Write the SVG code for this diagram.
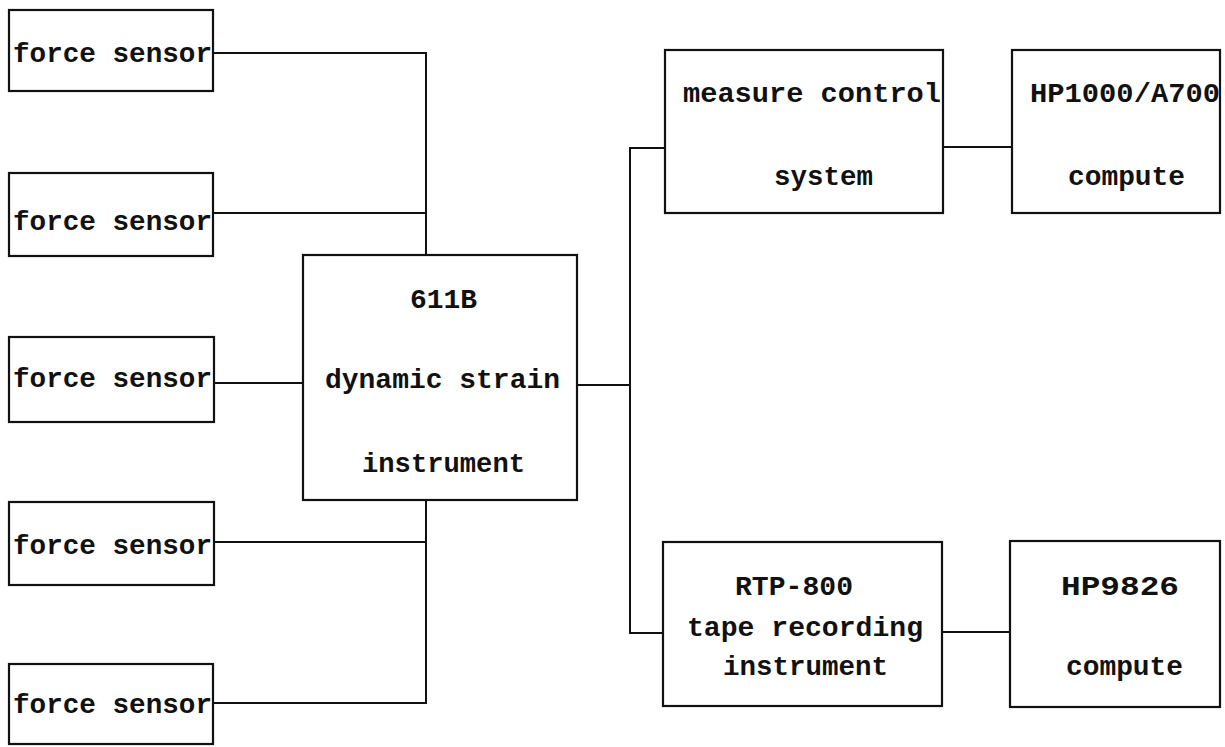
<svg xmlns="http://www.w3.org/2000/svg" width="1225" height="747" viewBox="0 0 1225 747">
<style>
.box{fill:#fff;stroke:#111;stroke-width:2.2}
.ln{fill:none;stroke:#111;stroke-width:2}
text{font-family:"Liberation Mono","DejaVu Sans Mono",monospace;font-weight:bold;font-size:28px;fill:#111}
</style>
<rect width="1225" height="747" fill="#fff"/>
<g id="connectors">
<path class="ln" d="M213,53 H426 V255"/>
<path class="ln" d="M213,213 H426"/>
<path class="ln" d="M213,383 H303"/>
<path class="ln" d="M426,500 V703 H213"/>
<path class="ln" d="M213,542 H426"/>
<path class="ln" d="M577,385 H630"/>
<path class="ln" d="M665,148 H630 V633 H663"/>
<path class="ln" d="M943,147 H1012"/>
<path class="ln" d="M942,632 H1010"/>
</g>
<g id="fs1"><rect class="box" x="9" y="10" width="204" height="81"/><text x="13" y="62" textLength="199" lengthAdjust="spacingAndGlyphs">force sensor</text></g>
<g id="fs2"><rect class="box" x="9" y="173" width="204" height="83"/><text x="13" y="230" textLength="199" lengthAdjust="spacingAndGlyphs">force sensor</text></g>
<g id="fs3"><rect class="box" x="9" y="337" width="205" height="85"/><text x="13" y="387" textLength="199" lengthAdjust="spacingAndGlyphs">force sensor</text></g>
<g id="fs4"><rect class="box" x="9" y="502" width="205" height="83"/><text x="13" y="554" textLength="199" lengthAdjust="spacingAndGlyphs">force sensor</text></g>
<g id="fs5"><rect class="box" x="9" y="664" width="204" height="80"/><text x="13" y="713" textLength="199" lengthAdjust="spacingAndGlyphs">force sensor</text></g>
<g id="dsi"><rect class="box" x="303" y="255" width="274" height="245"/>
<text x="410" y="308" textLength="67" lengthAdjust="spacingAndGlyphs">611B</text>
<text x="325" y="388" textLength="235" lengthAdjust="spacingAndGlyphs">dynamic strain</text>
<text x="362" y="472" textLength="163" lengthAdjust="spacingAndGlyphs">instrument</text></g>
<g id="mcs"><rect class="box" x="665" y="50" width="278" height="163"/>
<text x="683" y="102" textLength="258" lengthAdjust="spacingAndGlyphs">measure control</text>
<text x="774" y="185" textLength="99" lengthAdjust="spacingAndGlyphs">system</text></g>
<g id="hp1000"><rect class="box" x="1012" y="50" width="208" height="163"/>
<text x="1030" y="102" textLength="190" lengthAdjust="spacingAndGlyphs">HP1000/A700</text>
<text x="1068" y="185" textLength="117" lengthAdjust="spacingAndGlyphs">compute</text></g>
<g id="rtp"><rect class="box" x="663" y="542" width="279" height="164"/>
<text x="735" y="595" textLength="118" lengthAdjust="spacingAndGlyphs">RTP-800</text>
<text x="687" y="636" textLength="236" lengthAdjust="spacingAndGlyphs">tape recording</text>
<text x="723" y="675" textLength="165" lengthAdjust="spacingAndGlyphs">instrument</text></g>
<g id="hp9826"><rect class="box" x="1010" y="541" width="210" height="166"/>
<text x="1061" y="595" textLength="118" lengthAdjust="spacingAndGlyphs">HP9826</text>
<text x="1066" y="675" textLength="117" lengthAdjust="spacingAndGlyphs">compute</text></g>
</svg>
